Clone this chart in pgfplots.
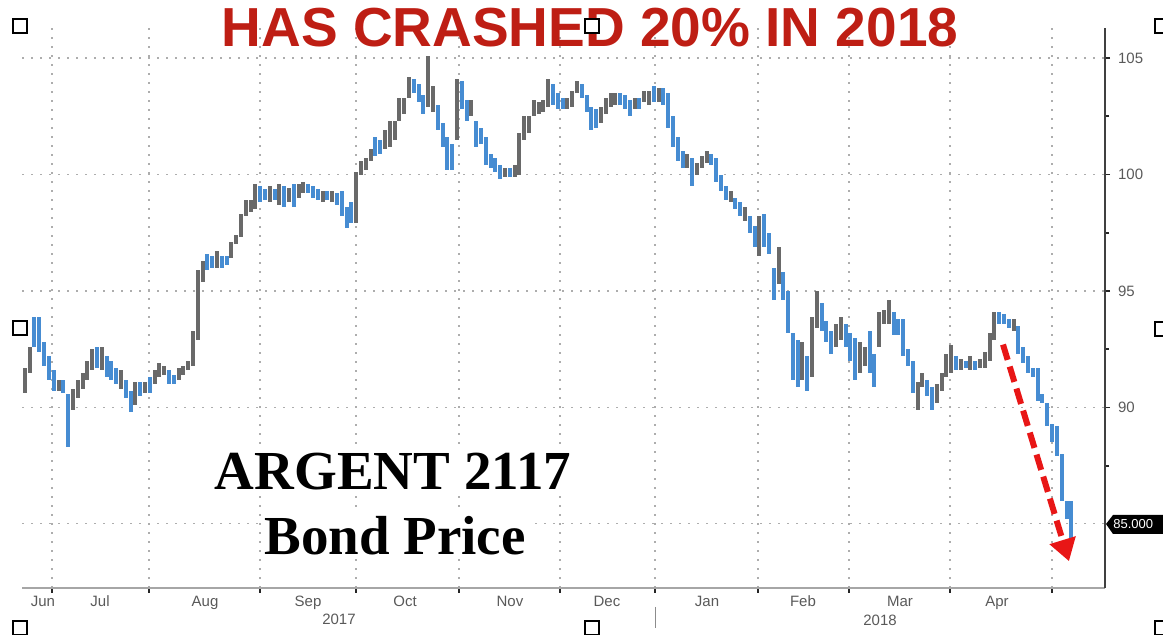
\documentclass[border=0pt]{standalone}
\usepackage{pgfplots}
\pgfplotsset{compat=1.18}
\usepackage{pgfplotstable}
\usepackage{fontspec}
\setmainfont{Liberation Sans}
\newfontfamily\serifbold{Liberation Serif}
\usetikzlibrary{arrows.meta}
\definecolor{barblue}{RGB}{70,140,210}
\definecolor{bargray}{RGB}{105,105,105}
\definecolor{titlered}{RGB}{190,30,20}
\definecolor{arrowred}{RGB}{232,22,22}

% gray bars (up days): x position, low, high
\pgfplotstableread{
x lo hi
25 90.6 91.7
30 91.5 92.6
59 90.7 91.2
73 89.9 90.8
78 90.4 91.2
83 90.8 91.5
87 91.2 92.0
92 91.6 92.5
102 91.6 92.6
121 90.8 91.6
135 90.1 91.1
145 90.6 91.1
155 91.0 91.6
159 91.3 91.9
164 91.4 91.8
179 91.2 91.7
183 91.4 91.8
188 91.6 92.0
193 91.8 93.3
198 92.9 95.9
203 95.4 96.3
217 96.0 96.7
231 96.4 97.1
236 97.0 97.4
241 97.3 98.3
246 98.2 98.9
251 98.4 98.9
255 98.5 99.6
270 98.8 99.5
279 98.7 99.6
289 98.8 99.4
299 99.0 99.6
303 99.2 99.7
323 98.8 99.3
332 98.8 99.3
356 97.9 100.1
361 100.0 100.6
366 100.2 100.7
371 100.6 101.1
385 101.1 101.9
390 101.2 102.3
395 101.5 102.3
399 102.3 103.3
404 102.6 103.3
409 103.3 104.2
428 102.9 105.1
433 102.7 103.8
457 101.5 104.1
471 102.5 103.2
505 99.9 100.3
515 99.9 100.4
519 100.0 101.8
524 101.5 102.5
529 101.8 102.5
534 102.5 103.2
539 102.6 103.1
543 102.7 103.2
548 102.9 104.1
567 102.8 103.3
572 102.9 103.6
577 103.5 104.0
601 102.2 102.9
606 102.6 103.3
611 102.9 103.5
615 103.0 103.5
635 102.8 103.3
644 103.1 103.6
649 103.0 103.6
659 103.1 103.7
687 100.3 100.9
697 100.0 100.5
702 100.3 100.8
707 100.5 101.0
731 98.8 99.3
745 98.0 98.6
759 96.5 98.2
779 95.3 96.9
802 91.2 92.8
812 91.3 93.9
817 93.4 95.0
836 92.6 93.6
841 92.9 93.9
860 91.5 92.8
865 91.8 92.6
879 92.6 94.1
884 93.6 94.2
889 93.6 94.6
918 89.9 91.1
922 90.9 91.5
937 90.2 91.0
942 90.7 91.5
946 91.3 92.3
951 91.5 92.7
961 91.6 92.1
970 91.6 92.2
980 91.7 92.1
985 91.7 92.4
990 92.0 93.2
994 92.9 94.1
1014 93.3 93.8
}\graybars

% blue bars (down days): x position, low, high
\pgfplotstableread{
x lo hi
34 92.6 93.9
39 92.4 93.9
44 91.8 92.8
49 91.2 92.2
54 90.7 91.6
63 90.6 91.2
68 88.3 90.6
97 91.7 92.6
107 91.3 92.2
111 91.2 92.0
116 91.0 91.7
126 90.4 91.2
131 89.8 90.7
140 90.5 91.1
150 90.6 91.3
169 91.0 91.6
174 91.0 91.4
207 95.9 96.6
212 96.0 96.5
222 96.0 96.5
227 96.1 96.5
260 98.8 99.5
265 98.9 99.4
275 98.9 99.4
284 98.6 99.5
294 98.6 99.6
308 99.2 99.6
313 99.0 99.5
318 98.9 99.4
327 98.9 99.3
337 98.7 99.2
342 98.2 99.3
347 97.7 98.6
351 97.9 98.8
375 100.8 101.6
380 100.9 101.5
414 103.5 104.1
419 103.1 103.9
423 102.6 103.4
438 101.9 103.0
443 101.2 102.2
447 100.2 101.6
452 100.2 101.3
462 102.8 104.0
467 102.3 103.2
476 101.2 102.3
481 101.3 102.0
486 100.4 101.6
491 100.3 100.9
495 100.1 100.7
500 99.8 100.4
510 99.9 100.3
553 103.0 103.9
558 102.8 103.5
563 102.8 103.3
582 103.3 103.9
587 102.7 103.4
591 101.9 102.9
596 102.0 102.8
620 103.0 103.5
625 102.8 103.4
630 102.5 103.2
639 102.8 103.3
654 103.1 103.8
663 103.0 103.7
668 102.0 103.5
673 101.2 102.5
678 100.6 101.6
683 100.3 101.0
692 99.5 100.7
711 100.4 100.9
716 99.7 100.7
721 99.3 100.0
726 98.9 99.5
735 98.5 99.0
740 98.2 98.8
750 97.5 98.2
755 96.9 97.8
764 96.9 98.3
769 96.6 97.5
774 94.6 96.0
783 94.6 95.8
788 93.2 95.0
793 91.2 93.2
798 90.9 92.9
807 90.7 92.2
822 93.3 94.5
826 92.8 93.7
831 92.3 93.3
846 92.6 93.6
850 92.0 93.2
855 91.2 93.0
870 91.5 93.3
874 90.9 92.3
894 93.1 94.1
898 93.1 93.8
903 92.2 93.8
908 91.8 92.5
913 90.6 92.0
927 90.5 91.2
932 89.9 90.9
956 91.6 92.2
966 91.7 92.0
975 91.6 92.0
999 93.6 94.1
1004 93.6 94.0
1009 93.4 93.8
1018 92.3 93.5
1023 91.9 92.6
1028 91.5 92.2
1033 91.3 91.7
1038 90.3 91.7
1042 90.2 90.6
1047 89.2 90.2
1052 88.5 89.3
1057 87.9 89.2
1062 86.0 88.0
1067 85.2 86.0
1071 84.1 86.0
}\bluebars

\begin{document}
\begin{tikzpicture}
\useasboundingbox (0,0) rectangle (581.5pt,-317.5pt);
\begin{axis}[
  at={(11pt,-294pt)}, anchor=south west,
  scale only axis, width=541.5pt, height=280pt,
  xmin=22, xmax=1105, ymin=82.25, ymax=106.29,
  axis x line*=bottom, axis y line*=right,
  x axis line style={-, draw=black!35, line width=1.4pt},
  y axis line style={-, draw=black!75, line width=0.7pt},
  xtick={52,149,260,356,459,560,655,758,849,950,1052},
  xticklabels={},
  extra x ticks={43,100,205,308,405,510,607,707,803,900,997},
  extra x tick labels={Jun,Jul,Aug,Sep,Oct,Nov,Dec,Jan,Feb,Mar,Apr},
  extra x tick style={grid=none, major tick length=0pt},
  ytick={90,95,100,105},
  minor ytick={87.5,92.5,97.5,102.5},
  extra y ticks={85},
  extra y tick labels={},
  extra y tick style={grid=major, major tick length=0pt},
  xmajorgrids, ymajorgrids,
  grid style={dash pattern=on 1.2pt off 3.3pt, black!32, line width=0.55pt},
  tick align=outside,
  major tick length=2.5pt, minor tick length=2pt,
  tick style={black!85, line width=0.8pt},
  ticklabel style={font=\fontsize{7.5}{8}\selectfont, text=black!65},
  /pgf/number format/assume math mode=true,
  yticklabel style={xshift=0.5pt},
  xticklabel style={yshift=-0.5pt},
]
\addplot[draw=none, mark=none, forget plot,
  error bars/.cd, y dir=both, y explicit, error mark=none,
  error bar style={draw=bargray, line width=1.9pt}]
  table[x=x, y expr={(\thisrow{lo}+\thisrow{hi})/2},
        y error expr={(\thisrow{hi}-\thisrow{lo})/2}] {\graybars};
\addplot[draw=none, mark=none, forget plot,
  error bars/.cd, y dir=both, y explicit, error mark=none,
  error bar style={draw=barblue, line width=1.9pt}]
  table[x=x, y expr={(\thisrow{lo}+\thisrow{hi})/2},
        y error expr={(\thisrow{hi}-\thisrow{lo})/2}] {\bluebars};
\draw[arrowred, line width=3pt, dash pattern=on 8pt off 3.5pt,
  -{Triangle[length=11pt,width=13pt]}]
  (axis cs:1003,92.7) -- (axis cs:1069,83.4);
\end{axis}
\begin{scope}[x=0.5pt,y=-0.5pt]
  % title
  \node[text=titlered, font=\bfseries\fontsize{27.5}{30}\selectfont, inner sep=0pt, anchor=base]
    at (590,47) {HAS CRASHED 20\% IN 2018};
  % chart label
  \node[fill=white, inner sep=1.5pt, anchor=base, font=\serifbold\bfseries\fontsize{27.5}{30}\selectfont]
    at (393,490) {ARGENT 2117};
  \node[fill=white, inner sep=1.5pt, anchor=base, font=\serifbold\bfseries\fontsize{27.5}{30}\selectfont]
    at (395,555) {Bond Price};
  % years
  \node[font=\fontsize{7.5}{8}\selectfont, text=black!65] at (339,619) {2017};
  \node[font=\fontsize{7.5}{8}\selectfont, text=black!65] at (880,620) {2018};
  \draw[black!45, line width=0.5pt] (655,607) -- (655,628);
  % last value tag
  \fill[black] (1106,524) -- (1113,515) -- (1165,515) -- (1165,534) -- (1113,534) -- cycle;
  \node[text=white, font=\fontsize{6.5}{7}\selectfont, anchor=west, inner sep=0pt] at (1113,524.5) {85.000};
  % selection handles (drawn on top)
  \foreach \cx/\cy in {20/26,592/26,1162/26,20/328,1162/329,20/628,592/628,1162/628}{
    \draw[black, line width=0.75pt, fill=white] (\cx-7,\cy-7) rectangle (\cx+7,\cy+7);
  }
\end{scope}
\end{tikzpicture}
\end{document}
